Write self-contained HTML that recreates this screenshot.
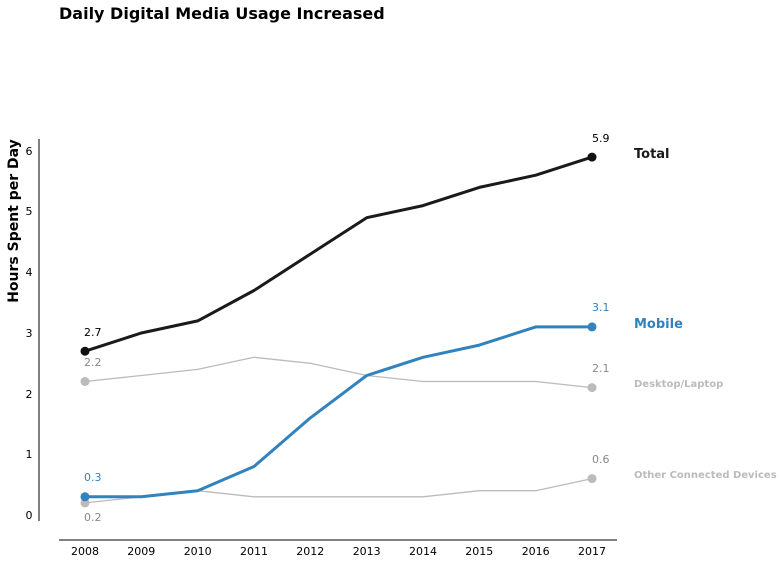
<!DOCTYPE html>
<html><head><style>body{margin:0;background:#fff}svg{display:block}text{font-family:"DejaVu Sans","Liberation Sans",sans-serif}</style></head><body>
<svg width="783" height="564" xmlns="http://www.w3.org/2000/svg">
<text x="59" y="19" font-size="16" font-weight="bold" fill="#000">Daily Digital Media Usage Increased</text>
<text transform="translate(18,221) rotate(-90)" text-anchor="middle" font-size="14" font-weight="bold">Hours Spent per Day</text>
<line x1="39" y1="139" x2="39" y2="521" stroke="#808080" stroke-width="2"/>
<line x1="59" y1="540" x2="617" y2="540" stroke="#808080" stroke-width="2"/>
<g font-size="11" text-anchor="middle" fill="#000">
<text x="29" y="519">0</text><text x="29" y="458">1</text><text x="29" y="398">2</text><text x="29" y="337">3</text><text x="29" y="276">4</text><text x="29" y="215">5</text><text x="29" y="155">6</text>
<text x="85" y="555">2008</text><text x="141.3" y="555">2009</text><text x="197.7" y="555">2010</text><text x="254" y="555">2011</text><text x="310.3" y="555">2012</text><text x="366.7" y="555">2013</text><text x="423" y="555">2014</text><text x="479.3" y="555">2015</text><text x="535.7" y="555">2016</text><text x="592" y="555">2017</text>
</g>
<g fill="none" stroke-linejoin="round">
<polyline stroke="#bbbbbb" stroke-width="1.3" points="85,381.5 141.3,375.5 197.7,369.4 254,357.3 310.3,363.3 366.7,375.5 423,381.5 479.3,381.5 535.7,381.5 592,387.6"/>
<polyline stroke="#bbbbbb" stroke-width="1.3" points="85,502.9 141.3,496.8 197.7,490.7 254,496.8 310.3,496.8 366.7,496.8 423,496.8 479.3,490.7 535.7,490.7 592,478.6"/>
<polyline stroke="#1a1a1a" stroke-width="3" points="85,351.2 141.3,333 197.7,320.9 254,290.5 310.3,254.1 366.7,217.7 423,205.6 479.3,187.4 535.7,175.2 592,157.1"/>
<polyline stroke="#3182bd" stroke-width="3" points="85,496.8 141.3,496.8 197.7,490.7 254,466.5 310.3,417.9 366.7,375.5 423,357.3 479.3,345.1 535.7,326.9 592,326.9"/>
</g>
<g>
<circle cx="85" cy="381.5" r="4.5" fill="#bbbbbb"/><circle cx="592" cy="387.6" r="4.5" fill="#bbbbbb"/>
<circle cx="85" cy="502.9" r="4.5" fill="#bbbbbb"/><circle cx="592" cy="478.6" r="4.5" fill="#bbbbbb"/>
<circle cx="85" cy="351.2" r="4.5" fill="#111"/><circle cx="592" cy="157.1" r="4.5" fill="#111"/>
<circle cx="85" cy="496.8" r="4.5" fill="#3182bd"/><circle cx="592" cy="326.9" r="4.5" fill="#3182bd"/>
</g>
<g font-size="11">
<text x="84" y="336" fill="#000">2.7</text><text x="592" y="142" fill="#000">5.9</text>
<text x="84" y="366" fill="#888">2.2</text><text x="592" y="372" fill="#888">2.1</text>
<text x="84" y="481" fill="#3182bd">0.3</text><text x="592" y="311" fill="#3182bd">3.1</text>
<text x="84" y="521" fill="#888">0.2</text><text x="592" y="463" fill="#888">0.6</text>
</g>
<text x="634" y="158" font-size="13" font-weight="bold" fill="#1a1a1a">Total</text>
<text x="634" y="328" font-size="13" font-weight="bold" fill="#3182bd">Mobile</text>
<text x="634" y="387" font-size="10" font-weight="bold" fill="#bbbbbb">Desktop/Laptop</text>
<text x="634" y="478" font-size="10" font-weight="bold" fill="#bbbbbb">Other Connected Devices</text>
</svg>
</body></html>
